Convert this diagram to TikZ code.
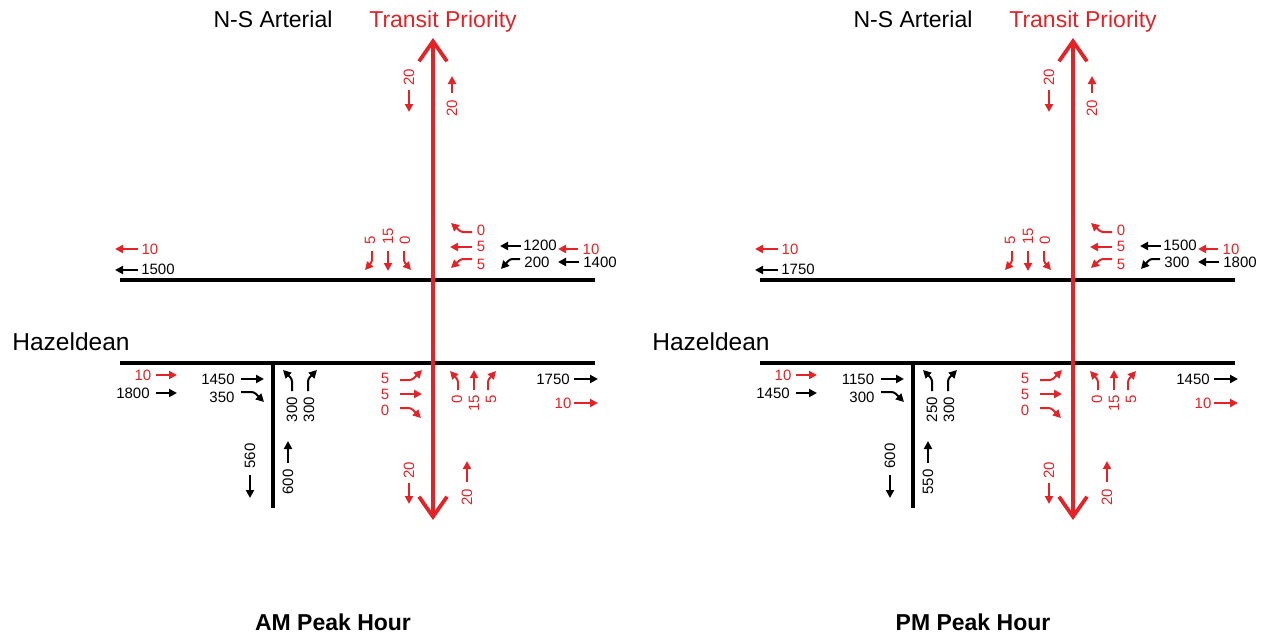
\documentclass[tikz,border=0pt]{standalone}
\usepackage{fontspec}
\setmainfont{Liberation Sans}
\usetikzlibrary{arrows.meta}
\definecolor{tpred}{RGB}{226,35,40}
\tikzset{
  road/.style={line width=3.5pt, black},
  transit/.style={line width=3.8pt, tpred, {Straight Barb[length=20pt,width=28pt]}-{Straight Barb[length=20pt,width=28pt]}},
  mv/.style={line width=2pt, rounded corners=2.5pt, -{Triangle[length=8pt,width=8pt]}},
  num/.style={font=\fontsize{15}{15}\selectfont, inner sep=0pt},
  title/.style={font=\fontsize{23}{23}\selectfont, inner sep=0pt, anchor=base},
}
\begin{document}
\begin{tikzpicture}[x=1pt, y=-1pt, line join=round]
\useasboundingbox (0,0) rectangle (1264,635);
\foreach \ox/\pk/\wt/\wr/\wf/\wx/\et/\er/\ef/\nl/\nr/\sd/\su/\ex in
  {0/AM/1200/200/1400/1500/1450/350/1800/300/300/560/600/1750,
   640/PM/1500/300/1800/1750/1150/300/1450/250/300/600/550/1450}{
\begin{scope}[shift={(\ox,0)}]
% titles
\node[title] (ns-\pk) at (273,27) {N-S Arterial};
\node[title, text=tpred] (tp-\pk) at (443,27) {Transit Priority};
\node[title, font=\fontsize{24.5}{24.5}\selectfont] (hz-\pk) at (71,350) {Hazeldean};
\node[title, font=\bfseries\fontsize{23}{23}\selectfont] (pk-\pk) at (333,630) {\pk\ Peak Hour};
% roads
\draw[road] (120,280) -- (595,280);
\draw[road] (120,363) -- (595,363);
\draw[road] (273,363) -- (273,508);
\draw[transit] (433,38) -- (433,520);
% north leg
\node[num, tpred, rotate=90] (n1-\pk) at (409,77) {20};
\draw[mv, tpred] (409,90) -- (409,112);
\node[num, tpred, rotate=90] (n2-\pk) at (452,108) {20};
\draw[mv, tpred] (452,93) -- (452,76);
% southbound approach
\node[num, tpred, rotate=90, anchor=west] (sb1-\pk) at (370,245) {5};
\node[num, tpred, rotate=90, anchor=west] (sb2-\pk) at (388,245) {15};
\node[num, tpred, rotate=90, anchor=west] (sb3-\pk) at (405,245) {0};
\draw[mv, tpred] (372,251) -- (372,262) -- (365,270);
\draw[mv, tpred] (388,251) -- (388,271);
\draw[mv, tpred] (404,251) -- (404,262) -- (411,270);
% westbound approach
\node[num, tpred] (wb1-\pk) at (481,230) {0};
\draw[mv, tpred] (472,232) -- (461,232) -- (451,223);
\node[num, tpred] (wb2-\pk) at (481,246) {5};
\draw[mv, tpred] (472,247) -- (450,247);
\node[num, tpred] (wb3-\pk) at (481,264) {5};
\draw[mv, tpred] (472,259) -- (461,259) -- (451,268);
\node[num] (wt-\pk) at (540,245) {\wt};
\draw[mv] (521,246) -- (500,246);
\node[num] (wr-\pk) at (537,262) {\wr};
\draw[mv] (520,259) -- (510,259) -- (501,269);
\node[num, tpred] (wq-\pk) at (591,249) {10};
\draw[mv, tpred] (578,249) -- (558,249);
\node[num] (wf-\pk) at (600,262) {\wf};
\draw[mv] (579,262) -- (558,262);
% west exit
\node[num, tpred] (xq-\pk) at (150,249) {10};
\draw[mv, tpred] (138,249) -- (115,249);
\node[num] (wx-\pk) at (158,269) {\wx};
\draw[mv] (138,270) -- (115,270);
% eastbound approach
\node[num, tpred] (eq-\pk) at (143,375) {10};
\draw[mv, tpred] (156,375) -- (177,375);
\node[num] (ef-\pk) at (133,393) {\ef};
\draw[mv] (156,393) -- (177,393);
\node[num] (et-\pk) at (218,379) {\et};
\draw[mv] (241,379) -- (264,379);
\node[num] (er-\pk) at (222,397) {\er};
\draw[mv] (241,392) -- (254,392) -- (264,402);
\node[num, tpred] (eb1-\pk) at (385,378) {5};
\draw[mv, tpred] (400,380) -- (412,380) -- (422,370);
\node[num, tpred] (eb2-\pk) at (385,394) {5};
\draw[mv, tpred] (400,394) -- (422,394);
\node[num, tpred] (eb3-\pk) at (385,410) {0};
\draw[mv, tpred] (400,408) -- (411,408) -- (421,418);
% south leg
\node[num, rotate=90, anchor=east] (nl-\pk) at (292,397) {\nl};
\draw[mv] (292,391) -- (292,379) -- (283,370);
\node[num, rotate=90, anchor=east] (nr-\pk) at (309,397) {\nr};
\draw[mv] (308,391) -- (308,379) -- (317,370);
\node[num, rotate=90] (sd-\pk) at (250,456) {\sd};
\draw[mv] (250,475) -- (250,498);
\node[num, rotate=90] (su-\pk) at (288,482) {\su};
\draw[mv] (288,463) -- (288,441);
% northbound approach
\node[num, tpred, rotate=90, anchor=east] (nb1-\pk) at (457,395) {0};
\node[num, tpred, rotate=90, anchor=east] (nb2-\pk) at (474,395) {15};
\node[num, tpred, rotate=90, anchor=east] (nb3-\pk) at (491,395) {5};
\draw[mv, tpred] (458,390) -- (458,380) -- (450,371);
\draw[mv, tpred] (474,390) -- (474,370);
\draw[mv, tpred] (488,390) -- (488,380) -- (496,371);
% east exit
\node[num] (ex-\pk) at (553,379) {\ex};
\draw[mv] (574,379) -- (598,379);
\node[num, tpred] (yq-\pk) at (563,403) {10};
\draw[mv, tpred] (574,403) -- (598,403);
% south leg transit
\node[num, tpred, rotate=90] (s1-\pk) at (409,470) {20};
\draw[mv, tpred] (409,483) -- (409,504);
\node[num, tpred, rotate=90] (s2-\pk) at (467,497) {20};
\draw[mv, tpred] (467,482) -- (467,461);
\end{scope}
}
\end{tikzpicture}
\end{document}
